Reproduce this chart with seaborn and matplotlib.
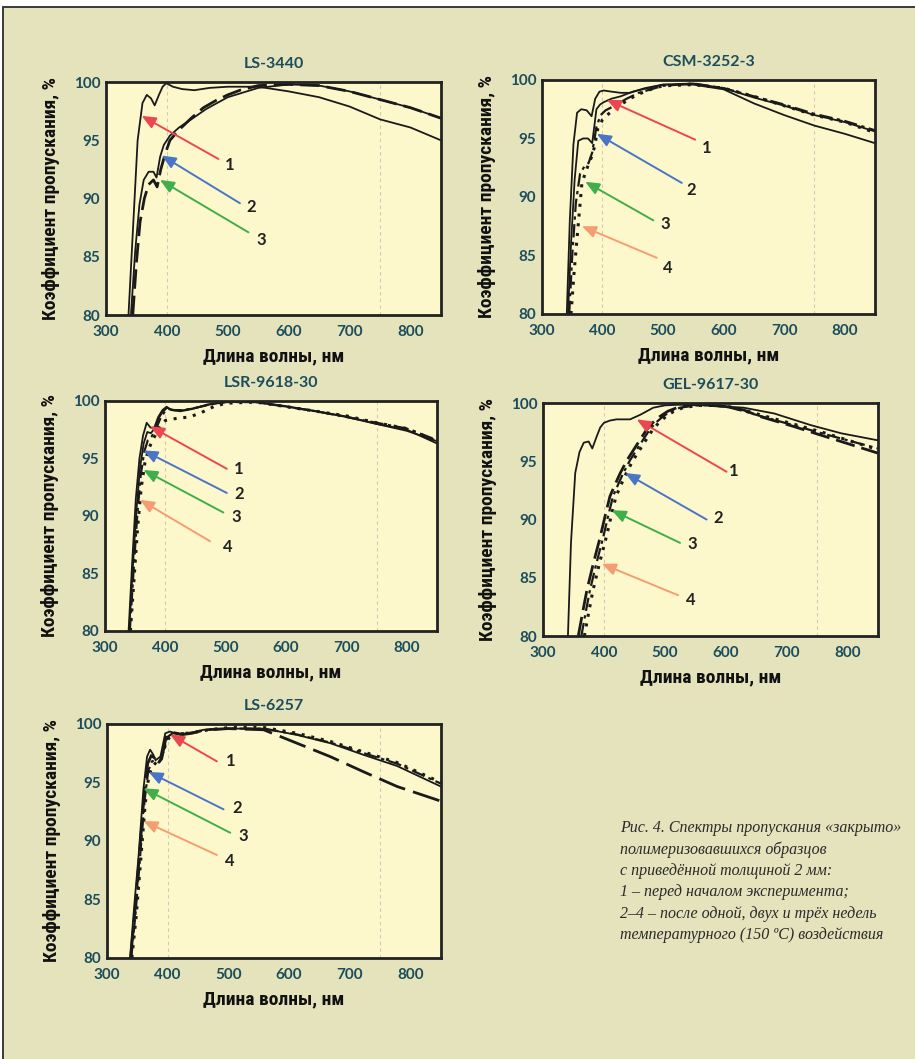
import numpy as np
import pandas as pd
import matplotlib
matplotlib.use("Agg")
import matplotlib.pyplot as plt
import seaborn as sns
from matplotlib.patches import Rectangle

# ---- data ----
titles = ["LS-3440", "CSM-3252-3", "LSR-9618-30", "GEL-9617-30", "LS-6257"]
x_ticks = [300, 400, 500, 600, 700, 800]
y_ticks = [80, 85, 90, 95, 100]

# LS-3440
ls3440_w1 = [337, 345, 352, 360, 367, 374, 380, 387, 393, 399, 410, 425, 445, 470, 500, 550, 600, 650, 700, 750, 800, 850]
ls3440_t1 = [80, 88, 95, 98.2, 98.9, 98.6, 98.0, 98.9, 99.6, 99.9, 99.6, 99.4, 99.3, 99.5, 99.6, 99.6, 99.2, 98.7, 97.9, 96.8, 96.1, 95.0]
ls3440_w2 = [341, 348, 355, 362, 370, 378, 383, 389, 395, 405, 420, 440, 465, 500, 550, 600, 650, 700, 750, 800, 850]
ls3440_t2 = [80, 85.5, 89.5, 91.6, 92.3, 92.3, 91.8, 93.6, 94.6, 95.4, 96.1, 96.8, 97.7, 98.7, 99.5, 99.8, 99.7, 99.2, 98.5, 97.8, 96.9]
ls3440_w3 = [344, 350, 356, 363, 370, 378, 384, 390, 397, 405, 420, 440, 460, 480, 500, 520, 550, 600, 650, 700, 750, 800, 850]
ls3440_t3 = [80, 84.5, 88, 90, 91.2, 91.6, 91.0, 92.5, 93.8, 95.0, 95.9, 96.9, 97.8, 98.4, 98.9, 99.3, 99.7, 99.8, 99.7, 99.2, 98.5, 97.8, 96.9]

# CSM-3252-3
csm_w1 = [341, 346, 352, 358, 365, 374, 382, 388, 395, 402, 415, 430, 445, 470, 500, 550, 600, 650, 700, 750, 800, 850]
csm_t1 = [80, 88, 94.5, 97.2, 97.5, 97.4, 96.9, 98.4, 99.0, 99.1, 99.0, 98.9, 98.9, 99.3, 99.6, 99.6, 99.2, 98.0, 97.0, 96.1, 95.4, 94.6]
csm_w2 = [343, 348, 354, 360, 368, 376, 383, 390, 396, 402, 415, 430, 450, 475, 500, 550, 600, 650, 700, 750, 800, 850]
csm_t2 = [80, 86, 91.5, 94.8, 95.0, 95.0, 94.6, 97.5, 97.9, 98.1, 98.4, 98.6, 99.0, 99.3, 99.6, 99.7, 99.3, 98.5, 97.8, 97.0, 96.4, 95.6]
csm_w3 = [345, 350, 356, 363, 370, 377, 383, 390, 397, 405, 420, 440, 460, 480, 500, 550, 600, 650, 700, 750, 800, 850]
csm_t3 = [80, 85, 89.5, 92.0, 92.6, 92.9, 93.8, 96.0, 97.0, 97.4, 97.8, 98.4, 98.9, 99.2, 99.5, 99.7, 99.3, 98.6, 97.9, 97.1, 96.5, 95.7]
csm_w4 = [348, 353, 358, 366, 374, 381, 387, 392, 400, 410, 425, 445, 465, 485, 500, 550, 600, 650, 700, 750, 800, 850]
csm_t4 = [80, 83.5, 86.5, 91.2, 92.4, 93.3, 94.3, 95.8, 96.6, 97.1, 97.7, 98.4, 98.9, 99.3, 99.5, 99.6, 99.3, 98.6, 97.8, 97.0, 96.4, 95.5]

# LSR-9618-30
lsr_w1 = [339, 345, 351, 357, 363, 369, 375, 381, 388, 395, 402, 410, 425, 445, 470, 500, 550, 600, 650, 700, 750, 800, 850]
lsr_t1 = [80, 86, 91.5, 95, 97, 98.1, 97.7, 97.6, 98.6, 99.2, 99.5, 99.2, 99.1, 99.3, 99.7, 99.9, 99.9, 99.55, 99.1, 98.65, 98.0, 97.5, 96.3]
lsr_w2 = [340, 346, 352, 358, 364, 370, 376, 382, 389, 396, 403, 412, 430, 450, 475, 500, 550, 600, 650, 700, 750, 800, 850]
lsr_t2 = [80, 85.5, 90.5, 94.2, 96.3, 97.3, 97.2, 97.6, 98.5, 99.1, 99.4, 99.2, 99.2, 99.4, 99.7, 99.9, 99.9, 99.5, 99.1, 98.6, 98.0, 97.4, 96.5]
lsr_w3 = [341, 347, 353, 359, 365, 371, 377, 384, 391, 398, 405, 415, 430, 450, 475, 500, 550, 600, 650, 700, 750, 800, 850]
lsr_t3 = [80, 85, 89.8, 93.5, 95.6, 96.6, 96.9, 97.5, 98.4, 99.0, 99.3, 99.2, 99.2, 99.4, 99.7, 99.9, 99.9, 99.5, 99.1, 98.6, 98.1, 97.6, 96.6]
lsr_w4 = [342, 348, 354, 360, 366, 372, 378, 385, 392, 400, 410, 420, 440, 460, 480, 500, 550, 600, 650, 700, 750, 800, 850]
lsr_t4 = [80, 84.5, 89, 92.5, 94.6, 95.8, 96.5, 97.2, 97.9, 98.3, 98.4, 98.5, 98.6, 99.0, 99.5, 99.8, 99.9, 99.5, 99.1, 98.7, 98.1, 97.6, 96.5]

# GEL-9617-30
gel_w1 = [341, 346, 353, 360, 367, 375, 381, 388, 394, 400, 410, 421, 443, 460, 481, 500, 520, 550, 575, 600, 630, 680, 740, 790, 850]
gel_t1 = [80, 88, 94, 95.8, 96.6, 96.7, 96.1, 97.1, 97.9, 98.3, 98.5, 98.6, 98.6, 99.0, 99.6, 99.8, 99.85, 99.85, 99.8, 99.7, 99.6, 99.1, 98.1, 97.4, 96.8]
gel_w2 = [358, 365, 372, 383, 394, 402, 410, 420, 427, 438, 449, 460, 470, 480, 492, 505, 520, 547, 575, 600, 630, 656, 711, 765, 850]
gel_t2 = [80, 82, 83.9, 86.3, 88.5, 90.3, 92, 93.2, 94, 95.1, 96, 96.9, 97.7, 98.3, 98.85, 99.3, 99.6, 99.86, 99.8, 99.7, 99.4, 98.85, 98.0, 97.1, 95.7]
gel_w3 = [363, 370, 377, 388, 399, 407, 415, 425, 432, 443, 454, 465, 475, 485, 497, 510, 525, 550, 575, 600, 630, 656, 711, 765, 850]
gel_t3 = [80, 82, 83.9, 86.3, 88.5, 90.3, 92, 93.2, 94, 95.1, 96, 96.9, 97.7, 98.3, 98.85, 99.3, 99.6, 99.8, 99.8, 99.7, 99.3, 98.9, 98.1, 97.3, 96.1]
gel_w4 = [368, 375, 382, 393, 404, 412, 420, 430, 437, 448, 459, 470, 480, 490, 502, 515, 530, 555, 580, 605, 630, 656, 711, 765, 850]
gel_t4 = [80, 82, 83.9, 86.3, 88.5, 90.3, 92, 93.2, 94, 95.1, 96, 96.9, 97.7, 98.3, 98.85, 99.3, 99.6, 99.8, 99.8, 99.7, 99.4, 99.0, 98.2, 97.4, 96.0]

# LS-6257
ls6257_w1 = [338, 345, 352, 360, 366, 371, 376, 380, 388, 396, 404, 412, 421, 437, 459, 503, 558, 613, 668, 723, 778, 850]
ls6257_t1 = [80, 84.5, 88.7, 94.4, 97.2, 97.8, 97.4, 96.9, 97.2, 99.2, 99.35, 99.2, 99.06, 99.2, 99.5, 99.6, 99.6, 99.06, 98.35, 97.35, 96.4, 94.65]
ls6257_w2 = [339, 346, 353, 361, 367, 373, 378, 383, 390, 398, 406, 415, 425, 440, 460, 500, 558, 613, 668, 723, 778, 850]
ls6257_t2 = [80, 84, 88.5, 93.8, 96.6, 97.3, 97.1, 96.6, 97.0, 99.0, 99.3, 99.2, 99.1, 99.2, 99.5, 99.6, 99.5, 98.35, 97.2, 95.9, 94.65, 93.4]
ls6257_w3 = [340, 347, 354, 362, 368, 374, 380, 386, 393, 400, 408, 418, 430, 445, 465, 503, 558, 613, 668, 723, 778, 850]
ls6257_t3 = [80, 83.8, 88.3, 93.5, 96.0, 96.8, 96.9, 96.7, 97.6, 98.9, 99.2, 99.2, 99.2, 99.3, 99.5, 99.6, 99.6, 99.1, 98.4, 97.5, 96.6, 94.9]
ls6257_w4 = [341, 348, 355, 363, 369, 375, 381, 388, 395, 402, 410, 420, 432, 447, 467, 503, 558, 613, 668, 723, 778, 850]
ls6257_t4 = [80, 83.5, 88, 93.2, 95.6, 96.4, 96.7, 97.0, 98.0, 98.8, 99.1, 99.2, 99.2, 99.3, 99.5, 99.7, 99.7, 99.2, 98.5, 97.6, 96.7, 95.0]

# arrows: head (x, y), tail (x, y), number label position
ls3440_heads = [(358.6, 97.1), (391.5, 93.7), (388.7, 91.6)]
ls3440_tails = [(484.6, 93.4), (520, 89.6), (534, 87.1)]
ls3440_nums = [(495, 92.9), (531, 89.3), (547, 86.4)]
csm_heads = [(407, 98.3), (390.7, 95.4), (371.5, 91.3), (366, 87.5)]
csm_tails = [(553, 94.9), (531, 91.2), (484, 88.0), (489.7, 84.8)]
csm_nums = [(564, 94.2), (539, 90.6), (495, 87.7), (500.7, 83.9)]
lsr_heads = [(374.6, 97.8), (363.6, 95.7), (363.6, 94.0), (358, 91.4)]
lsr_tails = [(501.7, 94.1), (501.7, 92.0), (496, 90.3), (474, 87.8)]
lsr_nums = [(512.6, 94.1), (514, 91.9), (510, 89.9), (495, 87.3)]
gel_heads = [(454, 98.6), (435, 94.0), (413, 90.8), (396.7, 86.2)]
gel_tails = [(601.5, 94.1), (568.7, 90.0), (525, 88.0), (522, 83.5)]
gel_nums = [(606, 94.2), (579.6, 90.1), (537, 87.9), (535.6, 83.1)]
ls6257_heads = [(404, 99.1), (368.6, 95.9), (360, 94.5), (360, 91.7)]
ls6257_tails = [(481, 96.8), (492, 92.7), (503, 90.7), (481, 88.8)]
ls6257_nums = [(495, 96.8), (505.8, 92.8), (516.8, 90.4), (495, 88.3)]

caption_lines = [
    "Рис. 4. Спектры пропускания «закрыто»",
    "полимеризовавшихся образцов",
    "с приведённой толщиной 2 мм:",
    "1 – перед началом эксперимента;",
    "2–4 – после одной, двух и трёх недель",
    "температурного (150 ºС) воздействия",
]

# ---- style ----
BG = "#e4e3bc"
FACE = "#fdf8cb"
TEAL = "#1c4d5c"
arrow_colors = ["#ec4650", "#4a74c6", "#3fae4b", "#f59d72"]
styles = {
    "solid": dict(linestyle="-", linewidth=1.3),
    "dash": dict(linestyle=(0, (7, 2.5)), linewidth=2.0),
    "longdash": dict(linestyle=(0, (10, 3)), linewidth=2.0),
    "dashdot": dict(linestyle=(0, (6, 2, 1.5, 2)), linewidth=1.6),
    "dot": dict(linestyle=(0, (1, 2.2)), linewidth=2.2),
}

sns.set_theme(style="ticks")
plt.rcParams["font.family"] = ["DejaVu Sans"]
label_font = dict(family=["Roboto Condensed", "Liberation Sans Narrow", "Roboto", "DejaVu Sans"],
                  weight="bold", size=14, color="#111111")
tick_font = dict(family=["Lato", "DejaVu Sans"], weight="bold", size=11)
title_font = dict(family=["Lato", "DejaVu Sans"], weight="bold", size=11.5)

fig = plt.figure(figsize=(9.15, 10.59), dpi=100)
fig.patch.set_facecolor("white")
fig.add_artist(Rectangle((3 / 915, -0.02), 1.2, 1 - 7 / 1059 + 0.02, transform=fig.transFigure,
                         facecolor=BG, edgecolor="#3a3a3a", linewidth=1.4, zorder=-5))

positions = [
    [0.1158, 0.7025, 0.3661, 0.2200],
    [0.5923, 0.7035, 0.3639, 0.2210],
    [0.1148, 0.4042, 0.3628, 0.2172],
    [0.5934, 0.3994, 0.3661, 0.2200],
    [0.1169, 0.0954, 0.3650, 0.2210],
]

panels = [
    ([(ls3440_w1, ls3440_t1, "solid"), (ls3440_w2, ls3440_t2, "solid"), (ls3440_w3, ls3440_t3, "dash")],
     ls3440_heads, ls3440_tails, ls3440_nums),
    ([(csm_w1, csm_t1, "solid"), (csm_w2, csm_t2, "solid"), (csm_w3, csm_t3, "dashdot"), (csm_w4, csm_t4, "dot")],
     csm_heads, csm_tails, csm_nums),
    ([(lsr_w1, lsr_t1, "solid"), (lsr_w2, lsr_t2, "solid"), (lsr_w3, lsr_t3, "dashdot"), (lsr_w4, lsr_t4, "dot")],
     lsr_heads, lsr_tails, lsr_nums),
    ([(gel_w1, gel_t1, "solid"), (gel_w2, gel_t2, "dash"), (gel_w3, gel_t3, "dashdot"), (gel_w4, gel_t4, "dot")],
     gel_heads, gel_tails, gel_nums),
    ([(ls6257_w1, ls6257_t1, "solid"), (ls6257_w2, ls6257_t2, "longdash"), (ls6257_w3, ls6257_t3, "dashdot"),
      (ls6257_w4, ls6257_t4, "dot")],
     ls6257_heads, ls6257_tails, ls6257_nums),
]

for pos, title, (curves, heads, tails, nums) in zip(positions, titles, panels):
    ax = fig.add_axes(pos)
    ax.set_facecolor(FACE)
    for x in (400, 750):
        ax.axvline(x, color="#d9c3b8", linestyle=(0, (3, 3)), linewidth=0.8, zorder=0)
    for w, t, st in curves:
        df = pd.DataFrame({"wl": w, "tr": t})
        sns.lineplot(data=df, x="wl", y="tr", ax=ax, color="#1a1a1a", sort=False,
                     estimator=None, **styles[st])
    for i, (h, tl, n) in enumerate(zip(heads, tails, nums)):
        ax.annotate("", xy=h, xytext=tl,
                    arrowprops=dict(arrowstyle="-|>,head_length=0.7,head_width=0.3",
                                    color=arrow_colors[i], lw=1.4, shrinkA=0, shrinkB=0))
        ax.text(n[0], n[1], str(i + 1), ha="left", va="center", color="#222222",
                family=["Lato", "DejaVu Sans"], weight="bold", size=12)
    ax.set_xlim(300, 850)
    ax.set_ylim(80, 100)
    ax.set_xticks(x_ticks)
    ax.set_yticks(y_ticks)
    ax.set_xticklabels([str(v) for v in x_ticks], color=TEAL, **tick_font)
    ax.set_yticklabels([str(v) for v in y_ticks], color=TEAL, **tick_font)
    ax.tick_params(axis="x", length=0, pad=7)
    ax.tick_params(axis="y", length=0, pad=4)
    for sp in ax.spines.values():
        sp.set_visible(True)
        sp.set_linewidth(2.0)
        sp.set_color("#222222")
    ax.set_title(title, color=TEAL, pad=10, **title_font)
    ax.set_xlabel("Длина волны, нм", labelpad=6, **label_font)
    ax.set_ylabel("Коэффициент пропускания, %", labelpad=10, **label_font)

cap_y = 1 - 828 / 1059
for i, line in enumerate(caption_lines):
    fig.text(620 / 915, cap_y - i * 21.4 / 1059, line, ha="left", va="center",
             family=["Liberation Serif", "DejaVu Serif"], style="italic", size=11.5, color="#2a2a2a")

fig.savefig("out.png", dpi=100, facecolor=fig.get_facecolor())
